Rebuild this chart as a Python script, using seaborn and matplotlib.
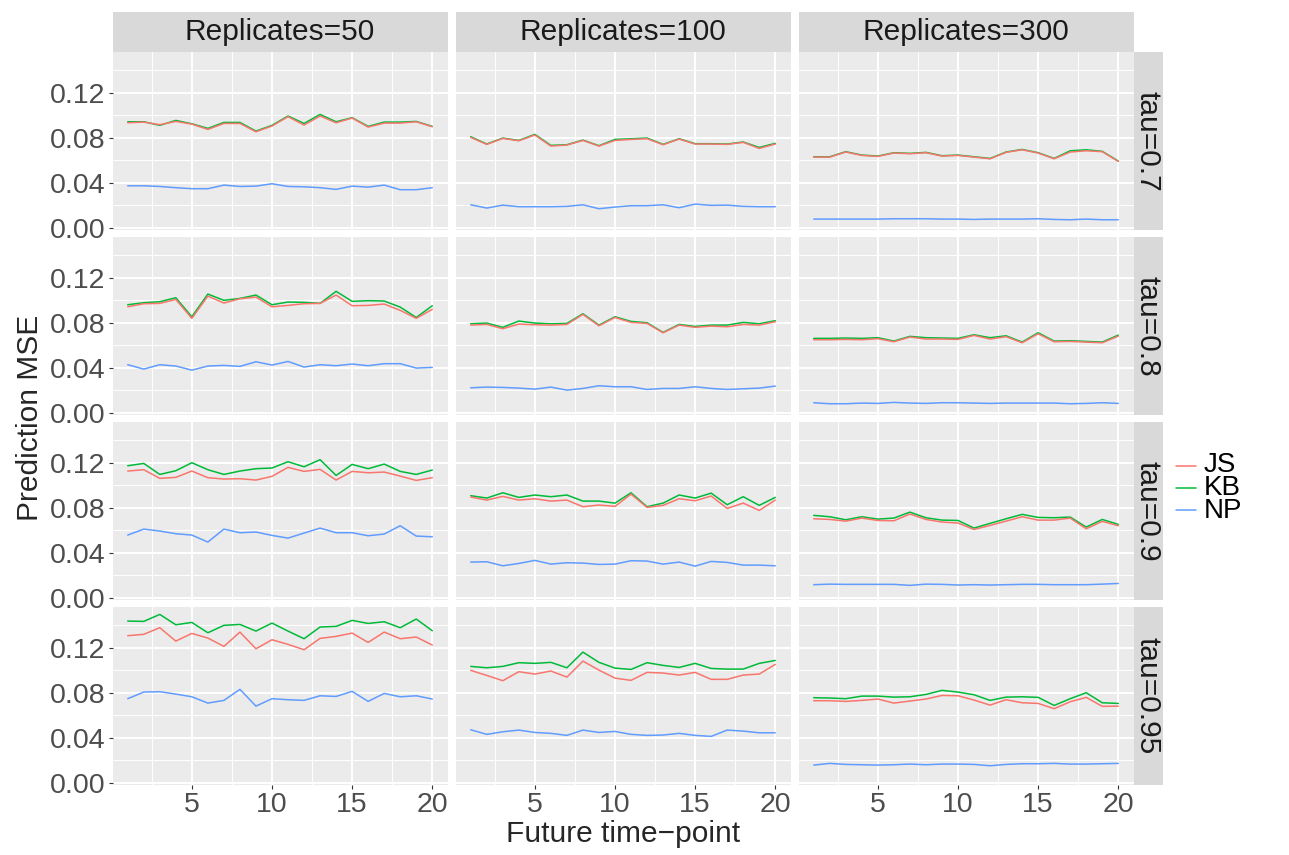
import pandas as pd
import seaborn as sns
import matplotlib.pyplot as plt
from matplotlib.patches import Rectangle
from matplotlib.lines import Line2D

W, H = 1289, 855

timepoints = list(range(1, 21))
replicates = [50, 100, 300]
taus = [0.7, 0.8, 0.9, 0.95]
methods = ['JS', 'KB', 'NP']
colors = {'JS': '#F8766D', 'KB': '#00BA38', 'NP': '#619CFF'}

# tau = 0.7
js_t07_r50 = [0.0933, 0.0939, 0.0916, 0.0945, 0.0921, 0.0874, 0.0927, 0.0927, 0.0853, 0.0904,
              0.0987, 0.0913, 0.0993, 0.0933, 0.0975, 0.0895, 0.0930, 0.0930, 0.0942, 0.0898]
kb_t07_r50 = [0.0942, 0.0942, 0.0910, 0.0954, 0.0924, 0.0883, 0.0936, 0.0936, 0.0859, 0.0910,
              0.0993, 0.0927, 0.1007, 0.0942, 0.0978, 0.0901, 0.0939, 0.0939, 0.0945, 0.0901]
np_t07_r50 = [0.0373, 0.0373, 0.0367, 0.0356, 0.0347, 0.0347, 0.0379, 0.0367, 0.0370, 0.0391,
              0.0367, 0.0364, 0.0356, 0.0341, 0.0370, 0.0361, 0.0379, 0.0338, 0.0338, 0.0356]

js_t07_r100 = [0.0803, 0.0741, 0.0794, 0.0773, 0.0824, 0.0726, 0.0735, 0.0776, 0.0726, 0.0776,
               0.0785, 0.0791, 0.0738, 0.0788, 0.0744, 0.0744, 0.0741, 0.0759, 0.0705, 0.0744]
kb_t07_r100 = [0.0809, 0.0744, 0.0797, 0.0776, 0.0830, 0.0732, 0.0738, 0.0779, 0.0729, 0.0785,
               0.0791, 0.0797, 0.0741, 0.0791, 0.0747, 0.0747, 0.0744, 0.0762, 0.0714, 0.0750]
np_t07_r100 = [0.0204, 0.0175, 0.0201, 0.0187, 0.0187, 0.0187, 0.0190, 0.0204, 0.0169, 0.0184,
               0.0196, 0.0196, 0.0204, 0.0178, 0.0210, 0.0199, 0.0201, 0.0190, 0.0187, 0.0187]

js_t07_r300 = [0.0628, 0.0628, 0.0673, 0.0643, 0.0634, 0.0664, 0.0658, 0.0667, 0.0637, 0.0643,
               0.0628, 0.0613, 0.0670, 0.0693, 0.0664, 0.0613, 0.0673, 0.0684, 0.0676, 0.0590]
kb_t07_r300 = [0.0631, 0.0631, 0.0676, 0.0646, 0.0637, 0.0667, 0.0661, 0.0670, 0.0640, 0.0646,
               0.0631, 0.0616, 0.0673, 0.0696, 0.0667, 0.0616, 0.0684, 0.0693, 0.0679, 0.0593]
np_t07_r300 = [0.0077, 0.0077, 0.0077, 0.0077, 0.0077, 0.0080, 0.0080, 0.0080, 0.0077, 0.0077,
               0.0074, 0.0077, 0.0077, 0.0077, 0.0080, 0.0074, 0.0071, 0.0077, 0.0071, 0.0071]

# tau = 0.8
js_t08_r50 = [0.0942, 0.0969, 0.0972, 0.1007, 0.0839, 0.1037, 0.0975, 0.1013, 0.1028, 0.0942,
              0.0954, 0.0969, 0.0972, 0.1046, 0.0951, 0.0954, 0.0966, 0.0910, 0.0839, 0.0919]
kb_t08_r50 = [0.0960, 0.0978, 0.0987, 0.1022, 0.0853, 0.1055, 0.0999, 0.1016, 0.1046, 0.0960,
              0.0984, 0.0981, 0.0972, 0.1079, 0.0990, 0.0996, 0.0993, 0.0939, 0.0847, 0.0951]
np_t08_r50 = [0.0427, 0.0388, 0.0427, 0.0415, 0.0379, 0.0415, 0.0421, 0.0412, 0.0453, 0.0424,
              0.0456, 0.0406, 0.0427, 0.0418, 0.0433, 0.0418, 0.0436, 0.0436, 0.0397, 0.0403]

js_t08_r100 = [0.0779, 0.0785, 0.0747, 0.0788, 0.0782, 0.0779, 0.0785, 0.0874, 0.0773, 0.0847,
               0.0803, 0.0794, 0.0711, 0.0779, 0.0759, 0.0770, 0.0764, 0.0785, 0.0779, 0.0809]
kb_t08_r100 = [0.0791, 0.0797, 0.0759, 0.0815, 0.0797, 0.0791, 0.0794, 0.0880, 0.0779, 0.0853,
               0.0812, 0.0800, 0.0714, 0.0785, 0.0767, 0.0779, 0.0779, 0.0803, 0.0791, 0.0818]
np_t08_r100 = [0.0222, 0.0228, 0.0225, 0.0219, 0.0210, 0.0228, 0.0201, 0.0216, 0.0240, 0.0231,
               0.0231, 0.0207, 0.0216, 0.0216, 0.0231, 0.0216, 0.0207, 0.0213, 0.0219, 0.0237]

js_t08_r300 = [0.0649, 0.0649, 0.0652, 0.0649, 0.0658, 0.0631, 0.0673, 0.0655, 0.0655, 0.0652,
               0.0687, 0.0655, 0.0676, 0.0622, 0.0702, 0.0631, 0.0634, 0.0628, 0.0622, 0.0681]
kb_t08_r300 = [0.0661, 0.0661, 0.0664, 0.0661, 0.0667, 0.0637, 0.0679, 0.0667, 0.0664, 0.0661,
               0.0693, 0.0667, 0.0684, 0.0628, 0.0711, 0.0637, 0.0640, 0.0634, 0.0628, 0.0690]
np_t08_r300 = [0.0089, 0.0080, 0.0080, 0.0086, 0.0083, 0.0092, 0.0086, 0.0083, 0.0089, 0.0089,
               0.0086, 0.0083, 0.0086, 0.0086, 0.0086, 0.0086, 0.0080, 0.0083, 0.0089, 0.0083]

# tau = 0.9
js_t09_r50 = [0.1126, 0.1138, 0.1061, 0.1070, 0.1126, 0.1067, 0.1055, 0.1058, 0.1046, 0.1079,
              0.1159, 0.1123, 0.1141, 0.1046, 0.1123, 0.1111, 0.1117, 0.1081, 0.1043, 0.1067]
kb_t09_r50 = [0.1173, 0.1194, 0.1096, 0.1129, 0.1200, 0.1138, 0.1096, 0.1126, 0.1147, 0.1153,
              0.1209, 0.1164, 0.1227, 0.1087, 0.1185, 0.1147, 0.1188, 0.1123, 0.1096, 0.1135]
np_t09_r50 = [0.0557, 0.0610, 0.0593, 0.0569, 0.0557, 0.0495, 0.0610, 0.0578, 0.0584, 0.0554,
              0.0530, 0.0575, 0.0619, 0.0578, 0.0578, 0.0551, 0.0566, 0.0640, 0.0548, 0.0542]

js_t09_r100 = [0.0895, 0.0868, 0.0901, 0.0868, 0.0880, 0.0859, 0.0868, 0.0809, 0.0824, 0.0812,
               0.0921, 0.0803, 0.0821, 0.0880, 0.0862, 0.0904, 0.0794, 0.0841, 0.0776, 0.0868]
kb_t09_r100 = [0.0907, 0.0886, 0.0933, 0.0892, 0.0913, 0.0898, 0.0913, 0.0859, 0.0859, 0.0841,
               0.0933, 0.0809, 0.0841, 0.0913, 0.0886, 0.0930, 0.0827, 0.0898, 0.0821, 0.0892]
np_t09_r100 = [0.0317, 0.0320, 0.0284, 0.0305, 0.0332, 0.0299, 0.0311, 0.0308, 0.0296, 0.0299,
               0.0329, 0.0326, 0.0299, 0.0317, 0.0281, 0.0323, 0.0314, 0.0290, 0.0290, 0.0284]

js_t09_r300 = [0.0702, 0.0696, 0.0681, 0.0708, 0.0687, 0.0684, 0.0744, 0.0696, 0.0673, 0.0664,
               0.0607, 0.0643, 0.0681, 0.0720, 0.0690, 0.0690, 0.0708, 0.0613, 0.0679, 0.0640]
kb_t09_r300 = [0.0732, 0.0720, 0.0693, 0.0720, 0.0699, 0.0708, 0.0761, 0.0711, 0.0690, 0.0687,
               0.0619, 0.0661, 0.0702, 0.0741, 0.0714, 0.0711, 0.0717, 0.0628, 0.0696, 0.0652]
np_t09_r300 = [0.0116, 0.0121, 0.0119, 0.0119, 0.0119, 0.0119, 0.0110, 0.0121, 0.0119, 0.0113,
               0.0116, 0.0113, 0.0116, 0.0119, 0.0119, 0.0116, 0.0116, 0.0116, 0.0121, 0.0127]

# tau = 0.95
js_t095_r50 = [0.1307, 0.1319, 0.1378, 0.1259, 0.1327, 0.1286, 0.1212, 0.1339, 0.1191, 0.1271,
               0.1230, 0.1182, 0.1283, 0.1301, 0.1330, 0.1247, 0.1339, 0.1280, 0.1295, 0.1224]
kb_t095_r50 = [0.1437, 0.1434, 0.1496, 0.1404, 0.1425, 0.1333, 0.1399, 0.1407, 0.1348, 0.1419,
               0.1348, 0.1280, 0.1384, 0.1390, 0.1443, 0.1416, 0.1431, 0.1378, 0.1455, 0.1351]
np_t095_r50 = [0.0747, 0.0806, 0.0809, 0.0788, 0.0764, 0.0708, 0.0732, 0.0830, 0.0681, 0.0747,
               0.0738, 0.0732, 0.0773, 0.0767, 0.0812, 0.0723, 0.0794, 0.0764, 0.0773, 0.0744]

js_t095_r100 = [0.0999, 0.0954, 0.0907, 0.0987, 0.0966, 0.0993, 0.0939, 0.1081, 0.1001, 0.0930,
                0.0910, 0.0981, 0.0975, 0.0957, 0.0981, 0.0919, 0.0919, 0.0957, 0.0966, 0.1052]
kb_t095_r100 = [0.1034, 0.1022, 0.1034, 0.1067, 0.1061, 0.1070, 0.1022, 0.1161, 0.1070, 0.1019,
                0.1007, 0.1067, 0.1043, 0.1025, 0.1061, 0.1016, 0.1010, 0.1010, 0.1061, 0.1087]
np_t095_r100 = [0.0471, 0.0430, 0.0453, 0.0468, 0.0447, 0.0439, 0.0421, 0.0468, 0.0447, 0.0456,
                0.0430, 0.0421, 0.0424, 0.0439, 0.0421, 0.0412, 0.0468, 0.0459, 0.0444, 0.0444]

js_t095_r300 = [0.0729, 0.0729, 0.0723, 0.0732, 0.0744, 0.0708, 0.0726, 0.0744, 0.0776, 0.0773,
                0.0735, 0.0690, 0.0738, 0.0711, 0.0705, 0.0658, 0.0720, 0.0759, 0.0679, 0.0681]
kb_t095_r300 = [0.0756, 0.0753, 0.0747, 0.0770, 0.0770, 0.0761, 0.0764, 0.0785, 0.0821, 0.0806,
                0.0782, 0.0732, 0.0761, 0.0764, 0.0759, 0.0687, 0.0747, 0.0800, 0.0711, 0.0705]
np_t095_r300 = [0.0157, 0.0172, 0.0163, 0.0160, 0.0157, 0.0160, 0.0166, 0.0160, 0.0166, 0.0166,
                0.0163, 0.0151, 0.0163, 0.0169, 0.0169, 0.0172, 0.0166, 0.0166, 0.0169, 0.0172]

panels = {
    (0.7, 50): (js_t07_r50, kb_t07_r50, np_t07_r50),
    (0.7, 100): (js_t07_r100, kb_t07_r100, np_t07_r100),
    (0.7, 300): (js_t07_r300, kb_t07_r300, np_t07_r300),
    (0.8, 50): (js_t08_r50, kb_t08_r50, np_t08_r50),
    (0.8, 100): (js_t08_r100, kb_t08_r100, np_t08_r100),
    (0.8, 300): (js_t08_r300, kb_t08_r300, np_t08_r300),
    (0.9, 50): (js_t09_r50, kb_t09_r50, np_t09_r50),
    (0.9, 100): (js_t09_r100, kb_t09_r100, np_t09_r100),
    (0.9, 300): (js_t09_r300, kb_t09_r300, np_t09_r300),
    (0.95, 50): (js_t095_r50, kb_t095_r50, np_t095_r50),
    (0.95, 100): (js_t095_r100, kb_t095_r100, np_t095_r100),
    (0.95, 300): (js_t095_r300, kb_t095_r300, np_t095_r300),
}

rows = []
for (tau, rep), series in panels.items():
    for m, vals in zip(methods, series):
        for t, v in zip(timepoints, vals):
            rows.append({'tau': tau, 'replicates': rep, 'method': m, 'time': t, 'mse': v})
df = pd.DataFrame(rows)

sns.set_theme(style='darkgrid')
plt.rcParams['font.family'] = ['Liberation Sans', 'DejaVu Sans']

# KB first so JS is drawn on top of it
g = sns.relplot(data=df, x='time', y='mse', hue='method', hue_order=['KB', 'JS', 'NP'],
                palette=colors, row='tau', col='replicates', row_order=taus,
                col_order=replicates, kind='line', errorbar=None, linewidth=1.1,
                legend=False, height=2, aspect=1.5,
                facet_kws=dict(sharex=True, sharey=True, despine=False))
fig = g.figure
fig.set_size_inches(W / 100, H / 100)

col_left = [112.5, 455.5, 798.5]
panel_w = 335
row_top = [52, 237, 422, 607]
panel_h = 178

for i in range(4):
    for j in range(3):
        ax = g.axes[i, j]
        ax.set_position([col_left[j] / W, 1 - (row_top[i] + panel_h) / H,
                         panel_w / W, panel_h / H])
        ax.set_title('')
        ax.set_xlabel('')
        ax.set_ylabel('')
        ax.set_facecolor('#EBEBEB')
        for s in ax.spines.values():
            s.set_visible(False)
        ax.set_xlim(0.05, 20.95)
        ax.set_ylim(-0.002, 0.1562)
        ax.set_xticks([5, 10, 15, 20])
        ax.set_xticks([2.5, 7.5, 12.5, 17.5], minor=True)
        ax.set_yticks([0.0, 0.04, 0.08, 0.12])
        ax.set_yticks([0.02, 0.06, 0.10, 0.14], minor=True)
        ax.set_yticklabels(['0.00', '0.04', '0.08', '0.12'])
        ax.set_xticklabels(['5', '10', '15', '20'])
        ax.grid(which='major', color='white', linewidth=1.4)
        ax.grid(which='minor', color='white', linewidth=0.7)
        ax.set_axisbelow(True)
        ax.tick_params(which='minor', length=0)
        ax.tick_params(which='major', length=2.75, width=0.8, color='#333333',
                       labelsize=20.5, labelcolor='#4D4D4D', pad=2.2,
                       left=(j == 0), labelleft=(j == 0),
                       bottom=(i == 3), labelbottom=(i == 3))

# strips
for j, rep in enumerate(replicates):
    fig.add_artist(Rectangle((col_left[j] / W, 1 - 52 / H), panel_w / W, 40 / H,
                             transform=fig.transFigure, facecolor='#D9D9D9', edgecolor='none'))
    fig.text((col_left[j] + panel_w / 2) / W, 1 - 32 / H, f'Replicates={rep}',
             ha='center', va='center', fontsize=21.5, color='#1A1A1A')

for i, tau in enumerate(taus):
    fig.add_artist(Rectangle((1133.5 / W, 1 - (row_top[i] + panel_h) / H), 29 / W, panel_h / H,
                             transform=fig.transFigure, facecolor='#D9D9D9', edgecolor='none'))
    fig.text(1148 / W, 1 - (row_top[i] + panel_h / 2) / H, f'tau={tau}',
             ha='center', va='center', rotation=270, fontsize=21.5, color='#1A1A1A')

fig.text(623 / W, 1 - 834 / H, 'Future time\u2212point', ha='center', va='center', fontsize=21.5)
fig.text(30 / W, 1 - 418 / H, 'Prediction MSE', ha='center', va='center',
         rotation=90, fontsize=21.5)

# legend: key lines plus one multi-line label block
for k, m in enumerate(methods):
    y = 1 - (466 + 22 * k) / H
    fig.add_artist(Line2D([1176 / W, 1196 / W], [y, y], transform=fig.transFigure,
                          color=colors[m], linewidth=1.1))
fig.text(1204 / W, 1 - 488 / H, '\n'.join(methods), ha='left', va='center',
         fontsize=20, color='black', linespacing=0.87)

fig.savefig('out.png', dpi=100)
